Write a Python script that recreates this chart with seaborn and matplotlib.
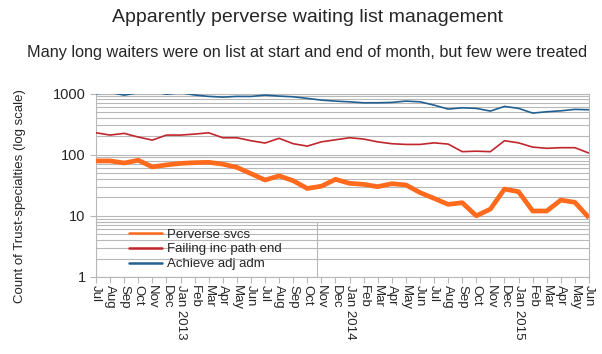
import numpy as np
import pandas as pd
import matplotlib
matplotlib.use("Agg")
import matplotlib.pyplot as plt
from matplotlib.lines import Line2D
from matplotlib.patches import Rectangle
from matplotlib.ticker import NullFormatter, LogLocator
import seaborn as sns

month_labels = ['Jul', 'Aug', 'Sep', 'Oct', 'Nov', 'Dec', 'Jan 2013', 'Feb', 'Mar', 'Apr', 'May', 'Jun',
                'Jul', 'Aug', 'Sep', 'Oct', 'Nov', 'Dec', 'Jan 2014', 'Feb', 'Mar', 'Apr', 'May', 'Jun',
                'Jul', 'Aug', 'Sep', 'Oct', 'Nov', 'Dec', 'Jan 2015', 'Feb', 'Mar', 'Apr', 'May', 'Jun']

perverse = [79, 79, 73, 81, 63, 68, 72, 74, 75, 70, 62, 49,
            38.5, 45, 37.5, 28, 30.5, 39.5, 34, 32.7, 30, 33.5, 32, 24,
            19.3, 15.4, 16.4, 10, 12.9, 27.4, 24.8, 12, 12, 18.1, 16.6, 9.3]
failing = [228, 209, 223, 194, 173, 209, 209, 217, 228, 189, 189, 169,
           155, 185, 151, 138, 162, 175, 189, 180, 162, 151, 147, 147,
           156, 149, 112, 114, 112, 169, 156, 133, 127, 130, 130, 106]
achieve = [995, 1040, 940, 1030, 1080, 975, 1030, 945, 897, 873, 897, 895,
           942, 907, 883, 832, 780, 751, 731, 705, 705, 715, 751, 731,
           646, 556, 584, 571, 516, 615, 571, 478, 503, 521, 550, 542]

series_names = ['Perverse svcs', 'Failing inc path end', 'Achieve adj adm']
colors = {'Perverse svcs': '#ff6a1c', 'Failing inc path end': '#c0272d', 'Achieve adj adm': '#236092'}
widths = {'Perverse svcs': 3.4, 'Failing inc path end': 1.2, 'Achieve adj adm': 1.2}

idx = np.arange(len(month_labels))
df = pd.DataFrame({
    'month': np.tile(idx, 3),
    'value': perverse + failing + achieve,
    'series': np.repeat(series_names, len(idx)),
})

sns.set_style('white')
plt.rcParams['font.family'] = ['Liberation Sans', 'DejaVu Sans']

fig = plt.figure(figsize=(6.02, 3.54), dpi=100)
ax = fig.add_axes([96 / 602, 1 - 277 / 354, (589 - 96) / 602, (277 - 93.5) / 354])

grid_c = '#b8b8b8'
for name in ['Achieve adj adm', 'Failing inc path end', 'Perverse svcs']:
    sub = df[df['series'] == name]
    sns.lineplot(data=sub, x='month', y='value', ax=ax, color=colors[name],
                 linewidth=widths[name], legend=False, zorder=3,
                 solid_joinstyle='round', solid_capstyle='butt')

ax.set_yscale('log')
ax.set_ylim(1, 1000)
ax.set_xlim(0, len(idx) - 1)
ax.set_yticks([1, 10, 100, 1000])
ax.set_yticklabels(['1', '10', '100', '1000'])
ax.yaxis.set_minor_locator(LogLocator(base=10, subs=np.arange(2, 10)))
ax.yaxis.set_minor_formatter(NullFormatter())
ax.set_xticks(idx)
ax.set_xticklabels(month_labels, rotation=270, ha='center', va='top', fontsize=9.5)
ax.tick_params(axis='y', which='major', direction='out', length=4.5, width=0.8,
               color=grid_c, labelsize=10.5, pad=3, left=True)
ax.tick_params(axis='y', which='minor', length=0, left=False)
ax.tick_params(axis='x', which='major', direction='out', length=4.5, width=0.8,
               color=grid_c, pad=1.5, bottom=True)
ax.grid(True, which='both', axis='y', color=grid_c, linewidth=0.8)
ax.grid(False, axis='x')
ax.set_axisbelow(True)
for sp in ax.spines.values():
    sp.set_color(grid_c)
    sp.set_linewidth(0.8)
ax.set_xlabel('')
ax.set_ylabel('')

# legend frame outline
ax.add_patch(Rectangle((0, 0), (317 - 96) / 493, np.log10(8) / 3, transform=ax.transAxes,
                       fill=False, edgecolor=grid_c, linewidth=0.8, zorder=2))
handles = [Line2D([], [], color=colors[n], linewidth=1.8) for n in series_names]
ax.legend(handles, series_names, loc='center left', bbox_to_anchor=((129 - 96) / 493, (277 - 249.3) / 183.5),
          frameon=False, fontsize=9.5, handlelength=2.5, handletextpad=0.4,
          labelspacing=0.2, borderpad=0, borderaxespad=0)

fig.text(0.51, 1 - 18 / 354, 'Apparently perverse waiting list management',
         ha='center', va='center', fontsize=14)
fig.text(0.51, 1 - 52 / 354, 'Many long waiters were on list at start and end of month, but few were treated',
         ha='center', va='center', fontsize=11.7)
fig.text(20 / 602, 1 - 196 / 354, 'Count of Trust-specialties (log scale)',
         ha='center', va='center', rotation=90, fontsize=9.5)

fig.savefig('out.png', dpi=100, facecolor='white')
